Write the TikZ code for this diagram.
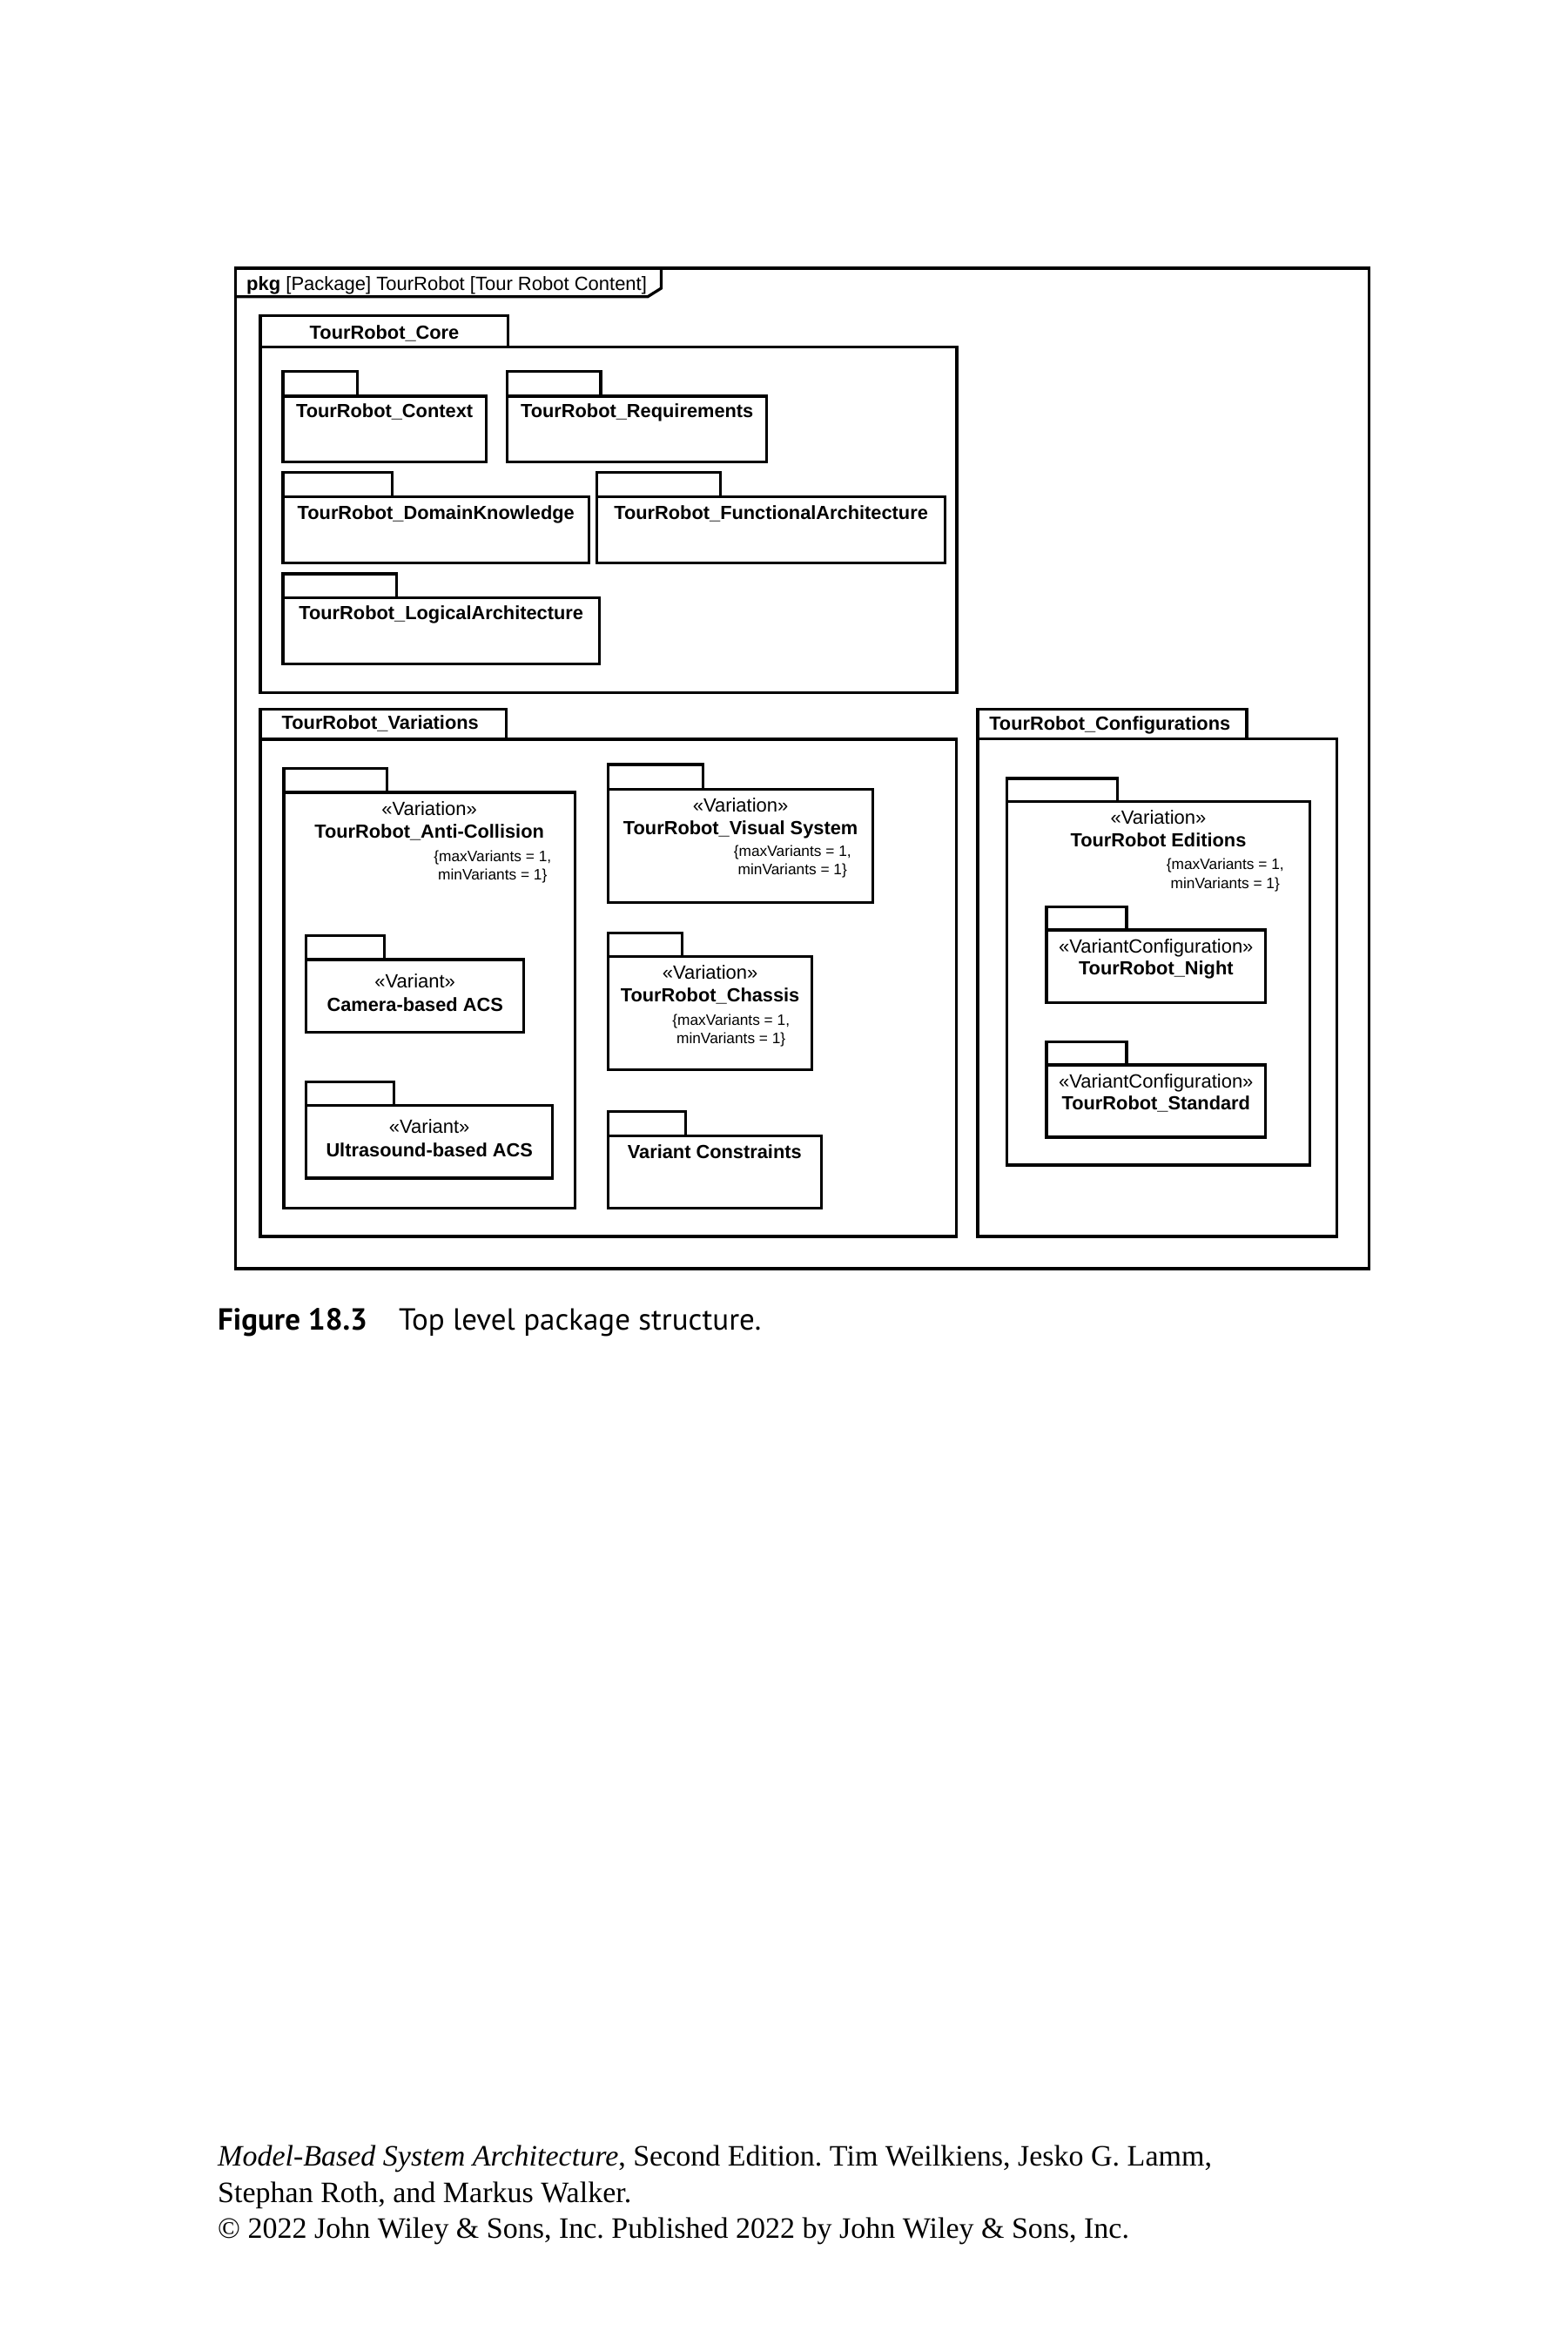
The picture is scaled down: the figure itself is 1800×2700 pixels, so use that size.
\documentclass[tikz,border=0pt]{standalone}
\usepackage{fontspec}
\newfontfamily\diagfont{Liberation Sans}
\newfontfamily\capfont{PT Sans}
\newfontfamily\footfont{Liberation Serif}
\frenchspacing
\tikzset{
  pk/.style={line width=3.3pt, line join=miter},
  lbl/.style={font=\diagfont\fontsize{22}{26}\selectfont, inner sep=0pt, anchor=base},
  nm/.style={lbl, font=\diagfont\bfseries\fontsize{21.8}{26}\selectfont},
  cst/.style={font=\diagfont\fontsize{17.3}{21}\selectfont, inner sep=0pt, anchor=base},
  capt/.style={font=\capfont\fontsize{35}{40}\selectfont, inner sep=0pt, anchor=base west},
  foot/.style={font=\footfont\fontsize{34}{41}\selectfont, inner sep=0pt, anchor=base west},
}
% #1 left x, #2 tab right x, #3 tab top y, #4 body top y, #5 body right x, #6 body bottom y
\newcommand\pkgshape[6]{%
  \draw[pk] (#1,#4) rectangle (#2,#3);
  \draw[pk] (#1,#4) rectangle (#5,#6);
}
\begin{document}
\begin{tikzpicture}[x=1pt,y=-1pt]
\useasboundingbox[fill=white] (0,0) rectangle (1800,2700);

% outer frame with header
\draw[pk] (270.5,308) rectangle (1572.5,1457);
\draw[pk] (270.5,340.7) -- (744,340.7) -- (759.5,331) -- (759.5,308);
\node[lbl, anchor=base west] (hdr) at (283,333) {\textbf{pkg} [Package] TourRobot [Tour Robot Content]};

% ---------- TourRobot_Core ----------
\pkgshape{299}{583.6}{362.7}{398.5}{1099}{795.7}
\node[nm] (coreT) at (441.5,389) {TourRobot\_Core};

\pkgshape{325}{410.7}{426.7}{455}{558.2}{530.7}
\node[nm] (ctx) at (441.6,479.5) {TourRobot\_Context};

\pkgshape{582.6}{689.9}{426.7}{455}{880.7}{530.7}
\node[nm] (req) at (731.7,479.5) {TourRobot\_Requirements};

\pkgshape{325}{450.8}{542.7}{570.7}{676.3}{646.7}
\node[nm] (dom) at (500.7,596) {TourRobot\_DomainKnowledge};

\pkgshape{685.6}{827.6}{542.7}{570.7}{1085.6}{646.7}
\node[nm] (fun) at (885.6,596) {TourRobot\_FunctionalArchitecture};

\pkgshape{325}{455.2}{659}{686.7}{688.3}{762.7}
\node[nm] (log) at (506.7,711.5) {TourRobot\_LogicalArchitecture};

% ---------- TourRobot_Variations ----------
\pkgshape{299}{581.8}{814.7}{849.1}{1098.5}{1420}
\node[nm] (varT) at (436.7,837.5) {TourRobot\_Variations};

% Anti-Collision
\pkgshape{326}{444.7}{882.2}{910}{660.2}{1387.4}
\node[lbl] (acS) at (493.1,936) {«Variation»};
\node[nm] (acN) at (493.1,962) {TourRobot\_Anti-Collision};
\node[cst] (acMax) at (565.8,989) {\{maxVariants = 1,};
\node[cst] (acMin) at (565.8,1010) {minVariants = 1\}};

% Camera-based ACS
\pkgshape{351.7}{441.6}{1074.8}{1102.1}{601.6}{1185.3}
\node[lbl] (camS) at (476.7,1134.5) {«Variant»};
\node[nm] (camN) at (476.7,1161) {Camera-based ACS};

% Ultrasound-based ACS
\pkgshape{351.7}{452.6}{1242.5}{1269.4}{634.6}{1353}
\node[lbl] (ulS) at (493.2,1301) {«Variant»};
\node[nm] (ulN) at (493.2,1328) {Ultrasound-based ACS};

% Visual System
\pkgshape{698.4}{807.2}{878.1}{906.6}{1002.8}{1036.2}
\node[lbl] (visS) at (850.6,932.5) {«Variation»};
\node[nm] (visN) at (850.6,958.8) {TourRobot\_Visual System};
\node[cst] (visMax) at (910.3,983) {\{maxVariants = 1,};
\node[cst] (visMin) at (910.3,1004) {minVariants = 1\}};

% Chassis
\pkgshape{698.4}{783.6}{1071.4}{1098.4}{932.7}{1228.8}
\node[lbl] (chS) at (815.6,1124) {«Variation»};
\node[nm] (chN) at (815.6,1150.5) {TourRobot\_Chassis};
\node[cst] (chMax) at (839.7,1177) {\{maxVariants = 1,};
\node[cst] (chMin) at (839.7,1198) {minVariants = 1\}};

% Variant Constraints
\pkgshape{698.4}{787.3}{1276.4}{1304.6}{943.2}{1387.4}
\node[nm] (vc) at (820.8,1330) {Variant Constraints};

% ---------- TourRobot_Configurations ----------
\pkgshape{1123.1}{1432}{814.7}{848.8}{1535.4}{1420}
\node[nm] (cfgT) at (1274.7,838.5) {TourRobot\_Configurations};

% Editions
\pkgshape{1156.4}{1283.4}{894.1}{920.6}{1504.5}{1338}
\node[lbl] (edS) at (1330.5,946.5) {«Variation»};
\node[nm] (edN) at (1330.5,972.5) {TourRobot Editions};
\node[cst] (edMax) at (1407.3,998.5) {\{maxVariants = 1,};
\node[cst] (edMin) at (1407.3,1020) {minVariants = 1\}};

% Night
\pkgshape{1201.9}{1294}{1041.6}{1068}{1453.6}{1151.2}
\node[lbl] (niS) at (1327.8,1094) {«VariantConfiguration»};
\node[nm] (niN) at (1327.8,1119) {TourRobot\_Night};

% Standard
\pkgshape{1201.9}{1294}{1196.5}{1223}{1453.6}{1306.1}
\node[lbl] (stS) at (1327.8,1249.5) {«VariantConfiguration»};
\node[nm] (stN) at (1327.8,1274.5) {TourRobot\_Standard};

% ---------- caption ----------
\node[capt] (capA) at (250,1527) {\bfseries Figure 18.3};
\node[capt] (capB) at (458,1527) {Top level package structure.};

% ---------- footer ----------
\node[foot] (f1) at (250,2487) {\textit{Model-Based System Architecture}, Second Edition. Tim Weilkiens, Jesko G. Lamm,};
\node[foot] (f2) at (250,2529) {Stephan Roth, and Markus Walker.};
\node[foot] (f3) at (250,2570) {© 2022 John Wiley \& Sons, Inc. Published 2022 by John Wiley \& Sons, Inc.};
\end{tikzpicture}
\end{document}
